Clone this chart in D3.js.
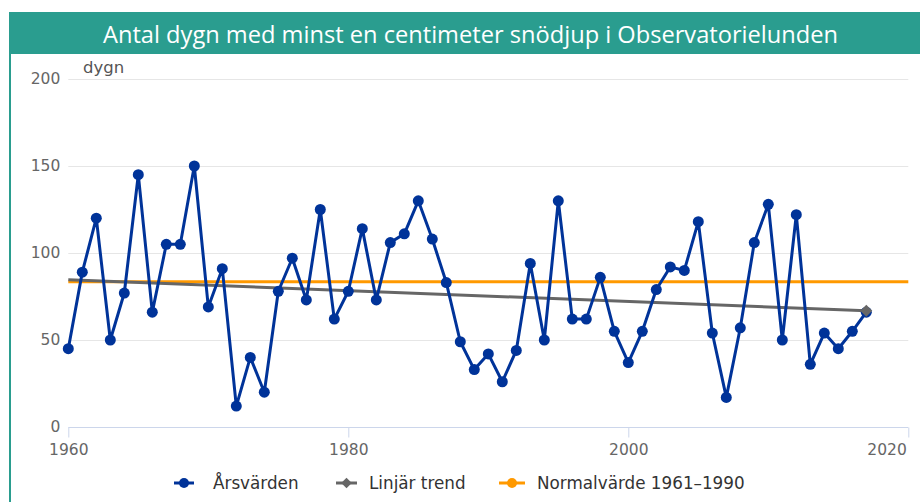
<!DOCTYPE html>
<html><head><meta charset="utf-8">
<script src="https://cdn.jsdelivr.net/npm/d3@7"></script>
<style>
html,body{margin:0;padding:0;background:#fff;}
svg{display:block;font-family:"DejaVu Sans",sans-serif;}
</style></head>
<body><svg id="c" width="920" height="502"></svg>
<script>
const title = "Antal dygn med minst en centimeter snödjup i Observatorielunden";
const yUnit = "dygn";
const years = d3.range(1960, 2018);
const arsvarden = [45,89,120,50,77,145,66,105,105,150,69,91,12,40,20,78,97,73,125,62,
  78,114,73,106,111,130,108,83,49,33,42,26,44,94,50,130,62,62,86,55,
  37,55,79,92,90,118,54,17,57,106,128,50,122,36,54,45,55,66];
const trendYears = [1960, 2017];
const trendValues = [84.6, 66.8];
const normalYears = [1960, 2020];
const normalValues = [83.5, 83.5];
const yTicks = [0, 50, 100, 150, 200];
const xTicks = [1960, 1980, 2000, 2020];
const legendNames = ["Årsvärden", "Linjär trend", "Normalvärde 1961–1990"];
const colors = ["#003399", "#666666", "#ff9900"];

const svg = d3.select("#c");
const x = d3.scaleLinear().domain([1960, 2020]).range([68.3, 908.3]);
const y = d3.scaleLinear().domain([0, 200]).range([427, 79]);

// header
svg.append("rect").attr("x", 9).attr("y", 12).attr("width", 911).attr("height", 42).attr("fill", "#2a9d8f");
svg.append("rect").attr("x", 9).attr("y", 54).attr("width", 2).attr("height", 448).attr("fill", "#2a9d8f");
svg.append("text").attr("x", 103).attr("y", 43).attr("text-anchor", "start")
  .attr("textLength", 735).attr("lengthAdjust", "spacingAndGlyphs")
  .attr("fill", "#fff").style("font-family", "'Open Sans', sans-serif").style("font-size", "23px").text(title);

// grid
const g = svg.append("g");
g.selectAll("line.grid").data(yTicks.filter(d => d > 0)).join("line")
  .attr("x1", x(1960)).attr("x2", x(2020)).attr("y1", d => Math.round(y(d)) + 0.5).attr("y2", d => Math.round(y(d)) + 0.5)
  .attr("stroke", "#e6e6e6").attr("stroke-width", 1);

// y axis labels
const yAxis = d3.axisLeft(y).tickValues(yTicks).tickSize(0).tickPadding(8);
const ya = svg.append("g").attr("transform", `translate(${x(1960)},0)`).call(yAxis);
ya.select(".domain").remove();
ya.selectAll("text").attr("fill", "#666").style("font-size", "15.5px").style("font-family", "'DejaVu Sans',sans-serif");

svg.append("text").attr("x", 83).attr("y", 73).attr("fill", "#555").style("font-size", "16.5px")
  .style("font-family", "'DejaVu Sans',sans-serif").text(yUnit);

// x axis
const xAxis = d3.axisBottom(x).tickValues(xTicks).tickFormat(d3.format("d")).tickSize(10).tickPadding(6);
const xa = svg.append("g").attr("transform", `translate(0,${Math.round(y(0)) + 0.5})`).call(xAxis);
xa.select(".domain").attr("stroke", "#ccd6eb").attr("d", `M${x(1960)},0H${x(2020)}`);
xa.selectAll(".tick line").attr("stroke", "#ccd6eb");
xa.selectAll("text").attr("fill", "#666").style("font-size", "15.5px").style("font-family", "'DejaVu Sans',sans-serif");
xa.selectAll(".tick").filter(d => d === 2020).select("text").attr("text-anchor", "end").attr("x", -2);

const line = d3.line().x(d => x(d[0])).y(d => y(d[1]));

// normal
svg.append("path").datum(normalYears.map((d, i) => [d, normalValues[i]]))
  .attr("d", line).attr("fill", "none").attr("stroke", colors[2]).attr("stroke-width", 3);
// trend
svg.append("path").datum(trendYears.map((d, i) => [d, trendValues[i]]))
  .attr("d", line).attr("fill", "none").attr("stroke", colors[1]).attr("stroke-width", 3);
// annual
const data = years.map((d, i) => [d, arsvarden[i]]);
svg.append("path").datum(data).attr("d", line).attr("fill", "none")
  .attr("stroke", colors[0]).attr("stroke-width", 3).attr("stroke-linejoin", "round");
svg.selectAll("circle.pt").data(data).join("circle")
  .attr("cx", d => x(d[0])).attr("cy", d => y(d[1])).attr("r", 5.5).attr("fill", colors[0]);
// trend end diamond
const lt = trendYears.length - 1;
svg.append("path").attr("d", d3.symbol(d3.symbolDiamond2, 90)())
  .attr("transform", `translate(${x(trendYears[lt])},${y(trendValues[lt])})`).attr("fill", colors[1]);

// legend
const legX = [174, 336, 499];
const legY = 483;
const leg = svg.selectAll("g.leg").data(legendNames).join("g")
  .attr("transform", (d, i) => `translate(${legX[i]},${legY})`);
leg.append("line").attr("x1", 0).attr("x2", (d, i) => [20, 21, 26][i]).attr("stroke", (d, i) => colors[i]).attr("stroke-width", 3);
leg.each(function(d, i) {
  const s = d3.select(this);
  if (i === 1) s.append("path").attr("d", d3.symbol(d3.symbolDiamond2, 70)()).attr("transform", "translate(10.5,0)").attr("fill", colors[i]);
  else s.append("circle").attr("cx", [10, 0, 13][i]).attr("r", 5).attr("fill", colors[i]);
});
leg.append("text").attr("x", (d, i) => [39, 33, 38][i]).attr("y", 6).attr("fill", "#333")
  .style("font-size", "16.8px").style("font-family", "'DejaVu Sans',sans-serif").text(d => d);
</script></body></html>
